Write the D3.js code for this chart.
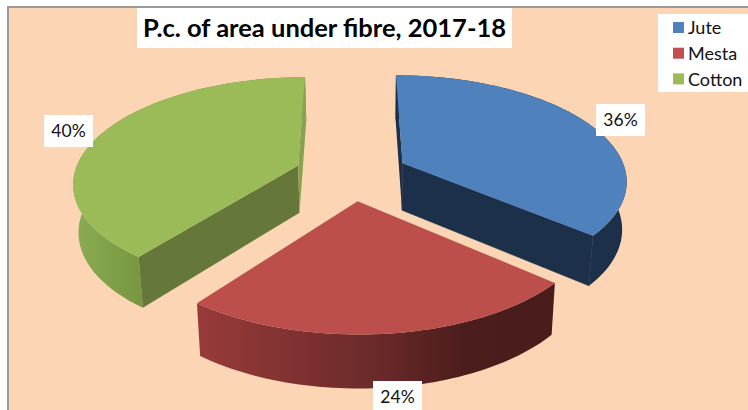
<!DOCTYPE html>
<html><head><meta charset="utf-8">
<script src="https://cdn.jsdelivr.net/npm/d3@7"></script>
<style>html,body{margin:0;padding:0;background:#fff}svg{display:block}</style>
</head><body><div id="c"></div>
<script>
const categories = ["Jute","Mesta","Cotton"];
const values = [36.3,24.1,39.6];
const colors = ["#4f81bd","#c0504d","#9bbb59"];
const topColors = ["#4f81bd","#bc4e4c","#9bbb59"];
const titleText = "P.c. of area under fibre, 2017-18";

const W=748,H=410;
const svg=d3.select("#c").append("svg").attr("width",W).attr("height",H);
svg.append("rect").attr("x",8).attr("y",7).attr("width",W+10).attr("height",H+10)
  .attr("fill","#fcd5b5").attr("stroke","#9a9a9a").attr("stroke-width",2);

const pie=d3.pie().sort(null).value(d=>d)(values);
const cx=351.5,cy=174,A=224,B=104,k=0.15,ex=0.2545;
function proj(X,Z){const w=1-k*Z;return [cx+A*X/w,cy+B*Z/w];}
function base(p){const d=47+(p[1]-163)*0.041;return [374+(p[0]-374)*0.982,p[1]+d];}
const line=d3.line();
const defs=svg.append("defs");
function grad(id,x1,x2,stops){
  const g=defs.append("linearGradient").attr("id",id).attr("gradientUnits","userSpaceOnUse")
    .attr("x1",x1).attr("x2",x2).attr("y1",0).attr("y2",0);
  stops.forEach(s=>g.append("stop").attr("offset",s[0]).attr("stop-color",s[1]));
}
grad("wallRed",196,553,[[0,"#983b3a"],[0.5,"#6b2a2a"],[0.75,"#4c1d1d"],[1,"#4a1c1c"]]);
grad("wallGreen",76,143,[[0,"#8aab52"],[1,"#77963f"]]);

const style={
  Jute:{wall:"#1d3049",start:"#1d3049",end:"#1d3049"},
  Mesta:{wall:"url(#wallRed)",start:"none",end:"none"},
  Cotton:{wall:"url(#wallGreen)",start:"#65783a",end:"#87a34f"}
};
const order=[2,0,1];
order.forEach(i=>{
  const s=pie[i],mid=(s.startAngle+s.endAngle)/2;
  const ox=ex*Math.sin(mid),oz=-ex*Math.cos(mid);
  const apex=proj(ox,oz);
  const arc=d3.range(0,61).map(j=>{
    const a=s.startAngle+(s.endAngle-s.startAngle)*j/60;
    return proj(ox+Math.sin(a),oz-Math.cos(a));
  });
  const st=style[categories[i]];
  const g=svg.append("g");
  const p0=arc[0],p1=arc[arc.length-1];
  g.append("path").attr("d",line(arc.concat(arc.map(base).reverse()))+"Z").attr("fill",st.wall);
  if(st.start!=="none")g.append("path").attr("d",line([apex,p0,base(p0),base(apex)])+"Z").attr("fill",st.start);
  if(st.end!=="none"){
    const f=g.append("path").attr("d",line([apex,p1,base(p1),base(apex)])+"Z").attr("fill",st.end);
    if(categories[i]==="Jute")f.attr("stroke",st.end).attr("stroke-width",0.6);
  }
  g.append("path").attr("d",line([apex].concat(arc))+"Z").attr("fill",topColors[i]);
});

const boxes=[[596,104],[373,381],[44,115]];
pie.forEach((s,i)=>{
  const b=boxes[i];
  svg.append("rect").attr("x",b[0]).attr("y",b[1]).attr("width",49).attr("height",32).attr("fill","#fff");
  svg.append("text").attr("x",b[0]+24.5).attr("y",b[1]+22).attr("text-anchor","middle")
    .attr("font-family","Lato").attr("font-size",17.5).attr("fill","#111")
    .text(Math.round(values[i]/d3.sum(values)*100)+"%");
});

svg.append("rect").attr("x",137).attr("y",8).attr("width",375).attr("height",40).attr("fill","#fff");
svg.append("text").attr("x",324.5).attr("y",37).attr("text-anchor","middle")
  .attr("font-family","Lato").attr("font-weight",700).attr("font-size",25.5).attr("fill","#000").text(titleText);

svg.append("rect").attr("x",658).attr("y",14).attr("width",90).attr("height",78).attr("fill","#fff");
categories.forEach((c,i)=>{
  svg.append("rect").attr("x",673).attr("y",22+i*25.7).attr("width",11).attr("height",11).attr("fill",colors[i]);
  svg.append("text").attr("x",688).attr("y",33.5+i*26.2).attr("font-family","Lato").attr("font-size",18).attr("fill","#111").text(c);
});
</script></body></html>
